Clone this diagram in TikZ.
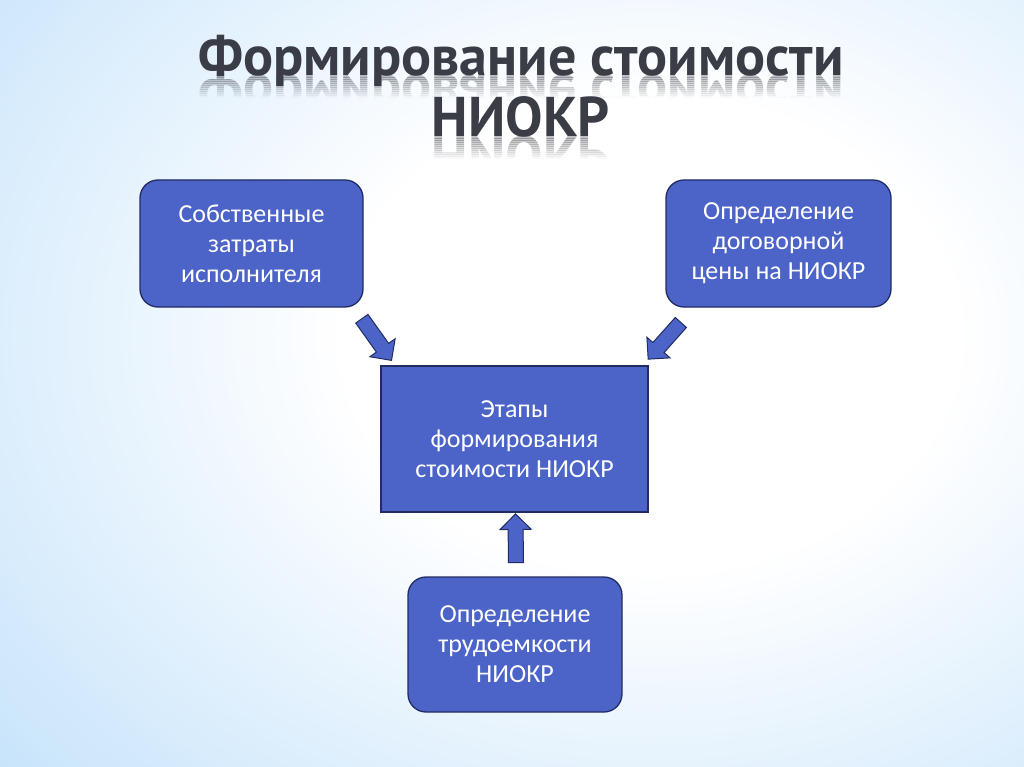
\documentclass[tikz,border=0pt]{standalone}
\usepackage{fontspec}
\setmainfont{Carlito}
\newfontfamily\titlefont{PT Sans}
\usetikzlibrary{shapes.arrows,calc}
\definecolor{boxfill}{RGB}{76,100,200}
\definecolor{boxline}{RGB}{34,44,98}
\definecolor{bgblue}{RGB}{158,208,248}
\definecolor{titlegray}{RGB}{58,60,70}
\pgfdeclareradialshading{bgshade}{\pgfpoint{0bp}{0bp}}{color(0bp)=(white); color(8bp)=(white); color(22bp)=(bgblue!55); color(32bp)=(bgblue); color(50bp)=(bgblue)}
\newcommand\barrow[3]{%
  \path let \p1=(#2), \p2=(#3), \n1={atan2(\y2-\y1,\x2-\x1)}, \n2={veclen(\x2-\x1,\y2-\y1)} in
    node[blockarrow, rotate=\n1, minimum height=\n2] (#1) at ($(\p1)!0.5!(\p2)$) {};}
\newcommand\titleline[3]{%
  \node[titlestyle] (#1) at (521,#2) {#3};
  \foreach \k in {0,...,10}{%
    \pgfmathsetmacro\o{0.32*(1-\k/11)}%
    \begin{scope}
      \clip (0,#2+\k*2) rectangle (1024,#2+\k*2+2);
      \node[titlestyle, yscale=-1, opacity=\o] (#1r\k) at (521,#2) {#3};
    \end{scope}}}
\begin{document}
\begin{tikzpicture}[x=1pt,y=-1pt,
  box/.style={draw=boxline, line width=1.3pt, fill=boxfill, text=white, align=center,
    font=\fontsize{26}{30}\selectfont, inner sep=0pt},
  rbox/.style={box, rounded corners=18pt},
  blockarrow/.style={single arrow, draw=boxline, fill=boxfill, line width=1pt,
    inner sep=7pt, single arrow head extend=8pt, minimum width=0pt},
  titlestyle/.style={anchor=base, text=titlegray, inner sep=0pt,
    font=\titlefont\bfseries\fontsize{56}{60}\selectfont}]
\useasboundingbox (0,0) rectangle (1024,767);
\begin{scope}
  \clip (0,0) rectangle (1024,767);
  \shade[shading=bgshade] (-300,-400) rectangle (1600,1070);
\end{scope}
\titleline{t1}{76}{Формирование стоимости}
\titleline{t2}{137}{НИОКР}
\node[rbox, minimum width=223pt, minimum height=127pt] (L) at (251.5,243.5)
  {Собственные\\затраты\\исполнителя};
\node[rbox, minimum width=225pt, minimum height=127pt] (R) at (778.5,243.5)
  {Определение\\договорной\\цены на НИОКР};
\node[box, minimum width=267pt, minimum height=146pt] (C) at (514.5,439)
  {Этапы\\формирования\\стоимости НИОКР};
\node[rbox, minimum width=214pt, minimum height=135pt] (B) at (515,644.5)
  {Определение\\трудоемкости\\НИОКР};
\coordinate (la) at ($(L.south east)+(-4,8)$);
\coordinate (lb) at ($(C.north west)+(9,-8)$);
\coordinate (ra) at ($(R.south west)+(18,12)$);
\coordinate (rb) at ($(C.north east)+(2,-9)$);
\coordinate (ba) at ($(B.north)+(1,-10)$);
\coordinate (bb) at ($(C.south)+(1,5)$);
\barrow{al}{la}{lb}
\barrow{ar}{ra}{rb}
\barrow{ab}{ba}{bb}
\end{tikzpicture}
\end{document}
